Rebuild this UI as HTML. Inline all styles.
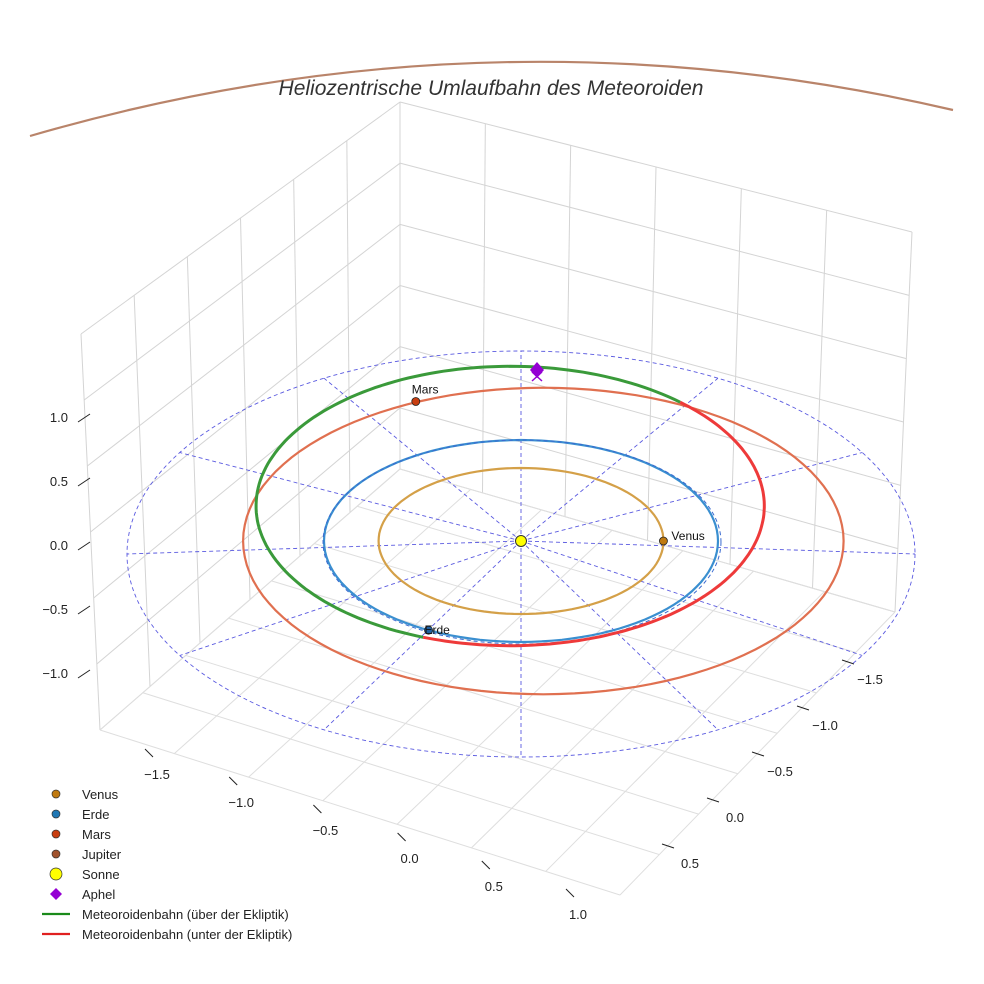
<!DOCTYPE html>
<html><head><meta charset="utf-8"><style>
body{margin:0;background:#fff}
svg{display:block;font-family:"Liberation Sans",sans-serif}
</style></head><body>
<svg id="c" width="984" height="984" viewBox="0 0 984 984" xmlns="http://www.w3.org/2000/svg">
<rect width="984" height="984" fill="#fff"/>
<path d="M30,136 Q490,2 953,110" fill="none" stroke="#b9846a" stroke-width="2.2"/>
<g id="grid"></g>
<g id="marks"></g>
<text x="491" y="95" text-anchor="middle" font-size="21" font-style="italic" fill="#333">Heliozentrische Umlaufbahn des Meteoroiden</text>
<g id="legend"></g>
</svg>
<script>
const planetNames=["Venus","Erde","Mars"];
const planetA=[0.723,1.0,1.524];
const planetE=[0.007,0.017,0.093];
const planetColors=["#d4a048","#3a8fd0","#e07050"];
const planetPosAngle=[0,-118,115];
const planetDot=["#c07a10","#1f5fa0","#c83e10"];
const zTicks=[1.0,0.5,0.0,-0.5,-1.0];
const xTicks=[-1.5,-1.0,-0.5,0.0,0.5,1.0];
const yTicks=[-1.5,-1.0,-0.5,0.0,0.5];
const meteorA=1.29, meteorE=0.27, meteorCx=-0.055;
const meteorSplit=[-110,48,250];
const NS="http://www.w3.org/2000/svg";
const CX=521,CY=541,KX=197,KY=101;
function px(x){return CX+x*KX}
function py(y){return CY-y*KY}
function el(t,a,p){const e=document.createElementNS(NS,t);for(const k in a)e.setAttribute(k,a[k]);p.appendChild(e);return e}
const G=document.getElementById('grid'),M=document.getElementById('marks'),L=document.getElementById('legend');
function lerp(a,b,t){return [a[0]+(b[0]-a[0])*t,a[1]+(b[1]-a[1])*t]}
function wall(b0,b1,t0,t1,nu,nv,name){
 for(let i=0;i<=nu;i++){const u=i/nu;const a=lerp(b0,b1,u),b=lerp(t0,t1,u);
  const l=el('line',{x1:a[0],y1:a[1],x2:b[0],y2:b[1],stroke:'#d4d4d4','stroke-width':1},G);
  }
 for(let j=0;j<=nv;j++){const v=j/nv;const a=lerp(b0,t0,v),b=lerp(b1,t1,v);
  const l=el('line',{x1:a[0],y1:a[1],x2:b[0],y2:b[1],stroke:'#d4d4d4','stroke-width':1},G);
  }
}
const Lb=[100,730],Bb=[400,469],Rb=[895,612],Fb=[620,895],Lt=[81,334],Bt=[400,102],Rt=[912,232];
wall(Lb,Bb,Lt,Bt,6,6,'left-wall');
wall(Bb,Rb,Bt,Rt,6,6,'right-wall');
for(let i=0;i<=7;i++){const u=i/7;const a=lerp(Lb,Fb,u),b=lerp(Bb,Rb,u);
 const l=el('line',{x1:a[0],y1:a[1],x2:b[0],y2:b[1],stroke:'#dedede'},G);}
for(let i=0;i<=7;i++){const u=i/7;const a=lerp(Fb,Rb,u),b=lerp(Lb,Bb,u);
 const l=el('line',{x1:a[0],y1:a[1],x2:b[0],y2:b[1],stroke:'#dedede'},G);}
zTicks.forEach(z=>{const y=546-z*128;
 const t=el('text',{x:68,y:y+4,'text-anchor':'end','font-size':13,fill:'#222'},G);t.textContent=z.toFixed(1).replace('-','\u2212');
 
 const k=el('line',{x1:78,y1:y+4,x2:90,y2:y-4,stroke:'#222'},G);});
xTicks.forEach(v=>{const u=(v+1.5)/2.5;const x=157+u*(578-157),y=779+u*(919-779);
 const t=el('text',{x:x,y:y,'text-anchor':'middle','font-size':13,fill:'#222'},G);t.textContent=v.toFixed(1).replace('-','\u2212');
 
 const k=el('line',{x1:x-12,y1:y-30,x2:x-4,y2:y-22,stroke:'#222'},G);});
yTicks.forEach(v=>{const u=(v+1.5)/2;const x=870+u*(690-870),y=684+u*(868-684);
 const t=el('text',{x:x,y:y,'text-anchor':'middle','font-size':13,fill:'#222'},G);t.textContent=v.toFixed(1).replace('-','\u2212');
 
 const k=el('line',{x1:x-28,y1:y-24,x2:x-16,y2:y-20,stroke:'#222'},G);});
const R0=2.0,rcy=554,rry=203;
const ec=el('ellipse',{cx:CX,cy:rcy,rx:R0*KX,ry:rry,fill:'none',stroke:'#5a5ae0','stroke-width':0.9,'stroke-dasharray':'4,3'},M);

for(let d=0;d<360;d+=30){const r=d*Math.PI/180;
 const l=el('line',{x1:CX,y1:CY,x2:CX+R0*KX*Math.cos(r),y2:rcy-rry*Math.sin(r),stroke:'#5a5ae0','stroke-width':0.9,'stroke-dasharray':'4,3'},M);
 }
function orbitPts(a,e,cxo,t0,t1){const p=[];const b=a*Math.sqrt(1-e*e);
 for(let i=0;i<=120;i++){const t=(t0+(t1-t0)*i/120)*Math.PI/180;p.push([px(cxo+a*Math.cos(t)),py(b*Math.sin(t))]);}
 return p.map(q=>q[0].toFixed(1)+','+q[1].toFixed(1)).join(' ');}
planetNames.forEach((n,i)=>{
 const a=planetA[i],e=planetE[i],c=a*e*(i==2?0.8:0);
 const o=el('polyline',{points:orbitPts(a,e,c,0,360),fill:'none',stroke:planetColors[i],'stroke-width':2.2},M);
 
});
const ed=el('ellipse',{cx:CX+1,cy:CY+1,rx:KX*1.01,ry:KY*1.01,fill:'none',stroke:'#3a6ad0','stroke-width':1,'stroke-dasharray':'4,3'},M);

const mb=meteorA*Math.sqrt(1-meteorE*meteorE)*0.51/0.513;
function mPts(t0,t1){const p=[];for(let i=0;i<=120;i++){const t=(t0+(t1-t0)*i/120)*Math.PI/180;
 p.push((px(meteorCx+meteorA*Math.cos(t))).toFixed(1)+','+(CY-35-mb*KY*Math.sin(t)*1.12).toFixed(1));}return p.join(' ');}
const mg=el('polyline',{points:mPts(meteorSplit[1],meteorSplit[2]),fill:'none',stroke:'#3a9a3a','stroke-width':3},M);

const mr=el('polyline',{points:mPts(meteorSplit[0],meteorSplit[1]),fill:'none',stroke:'#ee3a3a','stroke-width':3},M);

planetNames.forEach((n,i)=>{const a=planetA[i],t=planetPosAngle[i]*Math.PI/180;
 const x=px(a*Math.cos(t)+(i==2?0.11:0)),y=py(a*Math.sin(t));
 const d=el('circle',{cx:x,cy:y,r:4,fill:planetDot[i],stroke:'#222','stroke-width':0.8},M);
 
 const tx=el('text',{x:i==0?x+8:x-4,y:i==0?y-1:(i==2?y-8:y+4),'font-size':12,fill:'#111'},M);tx.textContent=n;
 });
const sun=el('circle',{cx:CX,cy:CY,r:5.5,fill:'#ffff00',stroke:'#333','stroke-width':1},M);

const aph=el('path',{d:'M537,362 l7,8 l-7,8 l-7,-8z',fill:'#9400d3'},M);

const ax=el('path',{d:'M532,372 l10,9 M542,372 l-10,9',stroke:'#9400d3','stroke-width':1.5},M);

const legNames=["Venus","Erde","Mars","Jupiter","Sonne","Aphel","Meteoroidenbahn (über der Ekliptik)","Meteoroidenbahn (unter der Ekliptik)"];
const legColors=["#c07a10","#1f77b4","#c83e10","#a0522d","#ffff00","#9400d3","#1a8a1a","#e02020"];
legNames.forEach((n,i)=>{const y=794+i*20;
 let m;
 if(i<5)m=el('circle',{cx:56,cy:y,r:i==4?6:4,fill:legColors[i],stroke:'#333','stroke-width':0.7},L);
 else if(i==5)m=el('path',{d:`M56,${y-6} l6,6 l-6,6 l-6,-6z`,fill:legColors[i]},L);
 else m=el('line',{x1:42,y1:y,x2:70,y2:y,stroke:legColors[i],'stroke-width':2.2},L);
 
 const t=el('text',{x:82,y:y+5,'font-size':13,fill:'#222'},L);t.textContent=n;
 });
</script>
</body></html>
